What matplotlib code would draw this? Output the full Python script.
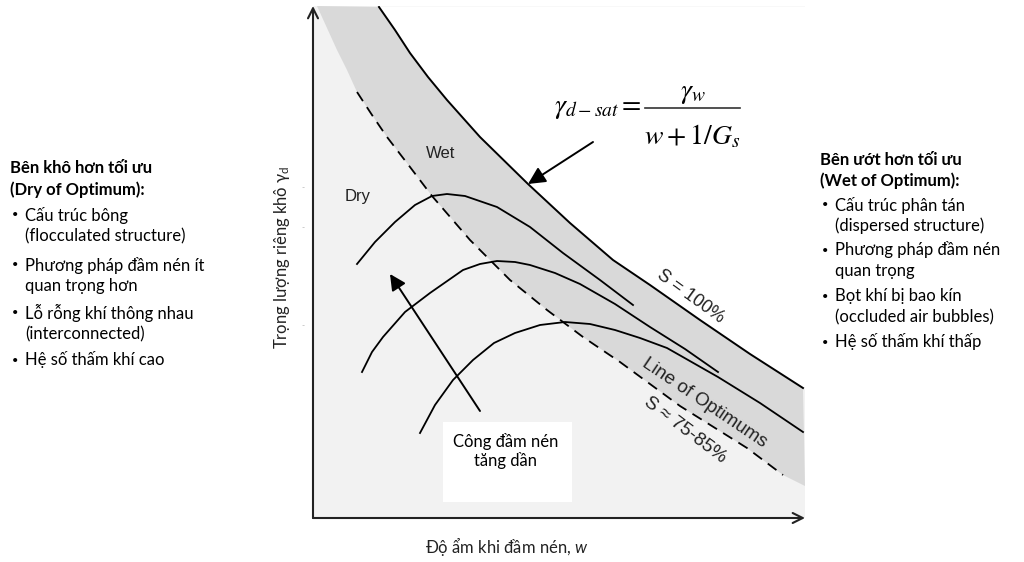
import matplotlib
matplotlib.use("Agg")
import matplotlib.pyplot as plt
from matplotlib.patches import Rectangle
from matplotlib.lines import Line2D

plt.rcParams['font.family'] = ['Lato', 'Noto Sans', 'DejaVu Sans']
plt.rcParams['mathtext.fontset'] = 'custom'
plt.rcParams['mathtext.rm'] = 'Lato'
plt.rcParams['mathtext.it'] = 'Lato:italic'

# values (arbitrary units: w to the right, gamma_d up)
sat_w = [66, 82, 97, 115, 134, 167, 215, 257, 300, 337, 387, 437, 490]
sat_g = [511, 488, 465, 441, 418, 381, 334, 295, 258, 233, 198, 164, 130]

opt_w = [4, 14, 24, 34, 44, 59, 74, 97, 119, 157, 197, 234, 270, 307, 367, 434, 470, 492]
opt_g = [512, 490, 468, 448, 426, 403, 381, 351, 322, 278, 238, 208, 181, 156, 112, 70, 43, 32]
dash_from, dash_to = 4, 16

c1_w = [44, 62, 82, 102, 119, 134, 152, 184, 217, 250, 287, 320]
c1_g = [254, 276, 296, 313, 322, 324, 322, 311, 291, 265, 238, 213]
c2_w = [49, 59, 70, 92, 117, 150, 167, 184, 202, 217, 242, 267, 302, 337, 372, 405]
c2_g = [146, 166, 181, 206, 225, 248, 254, 257, 256, 253, 245, 234, 214, 191, 169, 146]
c3_w = [107, 122, 140, 160, 181, 202, 227, 252, 277, 302, 327, 354, 405, 447, 490]
c3_g = [85, 113, 138, 158, 175, 185, 193, 196, 194, 188, 180, 170, 141, 115, 86]

W_MAX, G_MAX = 492, 512

dry_lines = ["Cấu trúc bông", "(flocculated structure)",
             "Phương pháp đầm nén ít", "quan trọng hơn",
             "Lỗ rỗng khí thông nhau", "(interconnected)",
             "Hệ số thấm khí cao"]
wet_lines = ["Cấu trúc phân tán", "(dispersed structure)",
             "Phương pháp đầm nén", "quan trọng",
             "Bọt khí bị bao kín", "(occluded air bubbles)",
             "Hệ số thấm khí thấp"]
bullet_first = [True, False, True, False, True, False, True]

fig = plt.figure(figsize=(10.24, 5.62), dpi=100)
ax = fig.add_axes([313/1024, 44/562, 492/1024, 512/562])
ax.set_xlim(0, W_MAX)
ax.set_ylim(0, G_MAX)
ax.set_facecolor('#f2f2f2')
for s in ax.spines.values():
    s.set_visible(False)
ax.set_xticks([])
ax.set_yticks([193, 291, 331])
ax.set_yticklabels(['-', '-', '-'], color='#aaaaaa', fontsize=6)
ax.tick_params(axis='y', length=0, pad=6)

# white area above saturation line, grey band between the two lines
ax.fill_between(sat_w + [W_MAX], sat_g + [sat_g[-1]], G_MAX, color='white', lw=0, zorder=1)
band_w = opt_w + sat_w[::-1]
band_g = opt_g + sat_g[::-1]
ax.fill(band_w, band_g, color='#d9d9d9', lw=0, zorder=1)

ax.plot(sat_w, sat_g, color='black', lw=1.4, zorder=3)
ax.plot(opt_w[dash_from:dash_to + 1], opt_g[dash_from:dash_to + 1], color='black',
        lw=1.3, ls=(0, (6, 4)), zorder=3)
for cw, cg in [(c1_w, c1_g), (c2_w, c2_g), (c3_w, c3_g)]:
    ax.plot(cw, cg, color='black', lw=1.3, zorder=3)

# axis arrows
for tip in [(0, 1), (1, 0)]:
    ax.annotate('', xy=tip, xytext=(0, 0), xycoords='axes fraction',
                arrowprops=dict(arrowstyle='->', lw=1.5, color='#222222', mutation_scale=18,
                                shrinkA=0, shrinkB=0), annotation_clip=False, zorder=5)

# compaction effort arrow and box
ax.annotate('', xy=(77, 244), xytext=(167, 107),
            arrowprops=dict(arrowstyle='-|>', lw=1.4, color='black', mutation_scale=24,
                            shrinkA=0, shrinkB=0), zorder=4)
ax.add_patch(Rectangle((130, 16), 129, 80, facecolor='white', edgecolor='none', zorder=2))
ax.text(193, 67, "Công đầm nén\ntăng dần", ha='center', va='center', fontsize=12,
        linespacing=1.2, zorder=4)

# formula and its arrow
ax.annotate('', xy=(215, 334), xytext=(280, 376),
            arrowprops=dict(arrowstyle='-|>', lw=1.4, color='black', mutation_scale=26,
                            shrinkA=0, shrinkB=0), zorder=4)
fy = 1 - 108/562
fig.text(642/1024, fy, r'$\gamma_{d-sat}=$', ha='right', va='center', fontsize=20,
         math_fontfamily='stix')
fig.text(693/1024, 1 - 93/562, r'$\gamma_w$', ha='center', va='center', fontsize=20,
         math_fontfamily='stix')
fig.text(692/1024, 1 - 136/562, r'$w+1/G_s$', ha='center', va='center', fontsize=20,
         math_fontfamily='stix')
fig.add_artist(Line2D([645/1024, 740/1024], [fy, fy], color='#333333', lw=1.2))

lab = dict(family=['Liberation Sans', 'DejaVu Sans'], color='#222222', zorder=4,
           ha='center', va='center', rotation_mode='anchor')
ax.text(45, 322, "Dry", fontsize=12, **lab)
ax.text(128, 365, "Wet", fontsize=12, **lab)
ax.text(378, 221, "S = 100%", fontsize=13, rotation=-36, **lab)
ax.text(391, 115, "Line of Optimums", fontsize=13.5, rotation=-34, **lab)
ax.text(372, 88, "S ≈ 75-85%", fontsize=13.5, rotation=-37, **lab)

fig.text(282/1024, 1 - 257/562, "Trọng lượng riêng khô γ$_\\mathrm{d}$", rotation=90,
         ha='center', va='center', fontsize=12, color='#222222')
fig.text(507/1024, 1 - 546/562, "Độ ẩm khi đầm nén, $\\mathit{w}$", ha='center', va='center',
         fontsize=12, color='#222222')

# side notes
def side_block(x0, y0, title, lines, ys):
    fig.text(x0/1024, 1 - y0[0]/562, title[0], fontsize=12, weight='bold', va='center')
    fig.text(x0/1024, 1 - y0[1]/562, title[1], fontsize=12, weight='bold', va='center')
    for line, first, y in zip(lines, bullet_first, ys):
        if first:
            fig.text((x0 + 2)/1024, 1 - y/562, "•", fontsize=8, va='center')
        fig.text((x0 + 15)/1024, 1 - y/562, line, fontsize=12, va='center')

side_block(10, [168, 190], ["Bên khô hơn tối ưu", "(Dry of Optimum):"], dry_lines,
           [215, 236, 265, 286, 313, 334, 360])
side_block(820, [160, 181], ["Bên ướt hơn tối ưu", "(Wet of Optimum):"], wet_lines,
           [205, 226, 250, 271, 296, 317, 342])

fig.savefig("out.png", dpi=100)
